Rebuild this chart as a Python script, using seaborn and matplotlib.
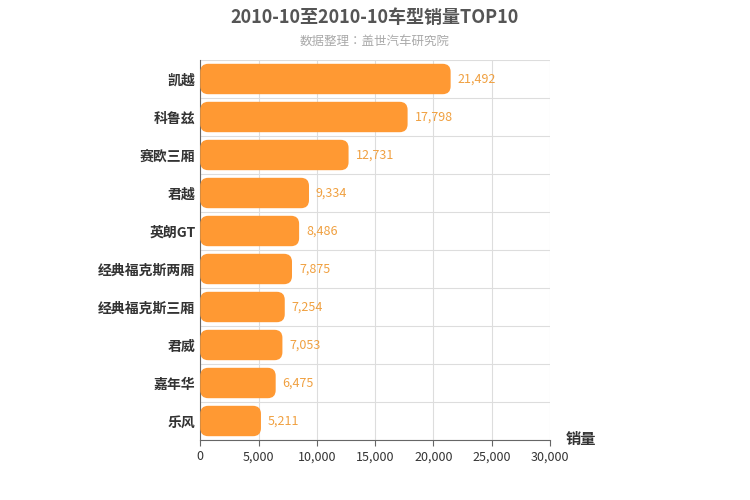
import matplotlib
matplotlib.use("Agg")
import matplotlib.pyplot as plt
import seaborn as sns
import pandas as pd
from matplotlib.patches import FancyBboxPatch

models = ["凯越", "科鲁兹", "赛欧三厢", "君越", "英朗GT", "经典福克斯两厢", "经典福克斯三厢", "君威", "嘉年华", "乐风"]
sales = [21492, 17798, 12731, 9334, 8486, 7875, 7254, 7053, 6475, 5211]
xticks = [0, 5000, 10000, 15000, 20000, 25000, 30000]

FAM = ["Noto Sans CJK JP", "Noto Sans CJK SC", "Noto Sans CJK TC", "Noto Sans CJK KR", "DejaVu Sans"]
plt.rcParams["font.family"] = "sans-serif"
plt.rcParams["font.sans-serif"] = FAM
df = pd.DataFrame({"model": models, "sales": sales})

fig = plt.figure(figsize=(7.5, 5), dpi=100)
ax = fig.add_axes([0.267, 0.12, 0.466, 0.76])
sns.barplot(data=df, y="model", x="sales", color="#FF9933", width=0.8, ax=ax, zorder=3)

ax.set_xlim(0, 30000)
ax.set_ylim(9.5, -0.5)
rx = 8 * 30000 / 350
ry = 8 * 10 / 380
for p in list(ax.patches):
    x, y, w, h = p.get_x(), p.get_y(), p.get_width(), p.get_height()
    p.remove()
    ax.add_patch(FancyBboxPatch((x, y), w, h, boxstyle=f"round,pad=0,rounding_size={rx}",
                                mutation_aspect=ry / rx, fc="#FF9933", ec="none", zorder=3))

for i, v in enumerate(sales):
    ax.text(v + 600, i, f"{v:,}", va="center", ha="left", color="#F0A040", fontsize=9, zorder=4, family=FAM)

ax.set_xticks(xticks)
ax.set_xticklabels([f"{t:,}" for t in xticks], fontsize=9, color="#333", family=FAM)
ax.set_yticks(range(len(models)))
ax.set_yticklabels(models, fontsize=10, fontweight="bold", color="#333", family=FAM)
ax.set_yticks([i + 0.5 for i in range(-1, 10)], minor=True)
ax.grid(False)
ax.grid(True, axis="x", color="#dddddd", lw=0.8, zorder=0)
ax.grid(True, axis="y", which="minor", color="#dddddd", lw=0.8, zorder=0)
ax.tick_params(axis="y", which="both", length=0)
ax.tick_params(axis="x", length=4, color="#666")
ax.set_xlabel("")
ax.set_ylabel("")
for s in ["top", "right"]:
    ax.spines[s].set_visible(False)
ax.spines["left"].set_color("#666")
ax.spines["bottom"].set_color("#666")

fig.text(0.5, 0.965, "2010-10至2010-10车型销量TOP10", ha="center", va="center",
         fontsize=13, fontweight="bold", color="#555", family=FAM)
fig.text(0.5, 0.918, "数据整理：盖世汽车研究院", ha="center", va="center", fontsize=9, color="#aaa", family=FAM)
fig.text(0.775, 0.122, "销量", ha="center", va="center", fontsize=11, fontweight="bold", color="#333", family=FAM)

fig.savefig("out.png", dpi=100)
